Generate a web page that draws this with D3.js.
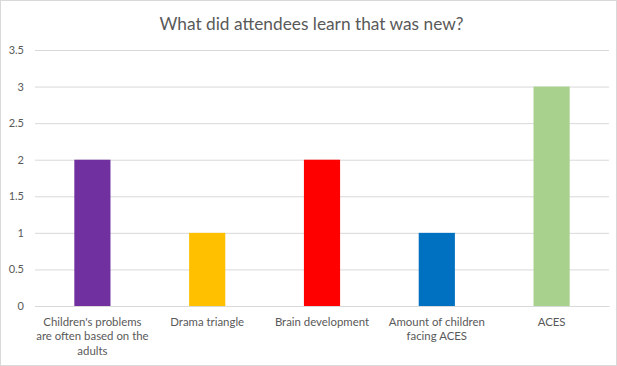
<!DOCTYPE html>
<html><head><meta charset="utf-8">
<script src="https://cdn.jsdelivr.net/npm/d3@7"></script>
<style>
html,body{margin:0;padding:0;background:#fff;}
svg{display:block;font-family:Lato, "Open Sans", sans-serif;}
</style></head>
<body>
<svg id="chart" width="617" height="366"></svg>
<script>
const title = "What did attendees learn that was new?";
const categories = ["Children's problems are often based on the adults", "Drama triangle", "Brain development", "Amount of children facing ACES", "ACES"];
const values = [2, 1, 2, 1, 3];
const colors = ["#7030A0", "#FFC000", "#FF0000", "#0070C0", "#A9D18E"];
const yTicks = [0, 0.5, 1, 1.5, 2, 2.5, 3, 3.5];

const W = 617, H = 366;
const m = {left: 35, right: 8, top: 50, bottom: 60};
const svg = d3.select("#chart");

svg.append("rect").attr("x", 0.5).attr("y", 0.5).attr("width", W - 1).attr("height", H - 1)
  .attr("fill", "#fff").attr("stroke", "#d9d9d9");

const x = d3.scaleBand().domain(categories).range([m.left, W - m.right]).paddingInner(0.685).paddingOuter(0.3425);
const y = d3.scaleLinear().domain([0, 3.5]).range([H - m.bottom, m.top]);

svg.append("text").attr("x", W / 2 + 3).attr("y", 30).attr("text-anchor", "middle")
  .attr("font-size", 17.3).attr("fill", "#595959").text(title);

const yAxis = svg.append("g").attr("transform", `translate(${m.left},0)`)
  .call(d3.axisLeft(y).tickValues(yTicks).tickSize(-(W - m.left - m.right)).tickPadding(11).tickFormat(d3.format("")));
yAxis.select(".domain").remove();
yAxis.selectAll(".tick line").attr("stroke", "#d9d9d9");
yAxis.selectAll(".tick text").attr("fill", "#595959").attr("font-size", 11).attr("font-family", "Lato, sans-serif");

svg.append("g").selectAll("rect").data(values).join("rect")
  .attr("x", (d, i) => x(categories[i]))
  .attr("y", d => y(d))
  .attr("width", x.bandwidth())
  .attr("height", d => y(0) - y(d))
  .attr("fill", (d, i) => colors[i]);

const xAxis = svg.append("g").attr("transform", `translate(0,${y(0)})`)
  .call(d3.axisBottom(x).tickSize(0).tickPadding(12));
xAxis.select(".domain").attr("stroke", "#d9d9d9");
xAxis.selectAll(".tick text").attr("fill", "#595959").attr("font-size", 11.4).attr("font-family", "Lato, sans-serif")
  .each(function (d) {
    const t = d3.select(this);
    const words = d.split(" ");
    t.text(null);
    const maxW = 114;
    let line = [], lines = [];
    const probe = t.append("tspan");
    for (const w of words) {
      line.push(w);
      probe.text(line.join(" "));
      if (probe.node().getComputedTextLength() > maxW && line.length > 1) {
        line.pop();
        lines.push(line.join(" "));
        line = [w];
      }
    }
    lines.push(line.join(" "));
    probe.remove();
    lines.forEach((l, i) => {
      t.append("tspan").attr("x", 0).attr("dy", i === 0 ? "0.71em" : "1.25em").text(l);
    });
  });
</script>
</body></html>
